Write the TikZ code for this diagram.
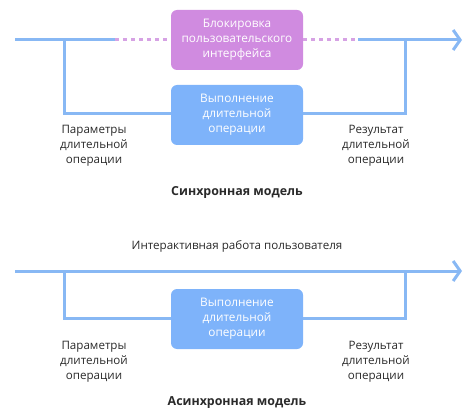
\documentclass[tikz,border=0pt]{standalone}
\usepackage{fontspec}
\setmainfont{Open Sans}
\usetikzlibrary{arrows.meta}
\definecolor{lineblue}{HTML}{88B8F4}
\definecolor{boxblue}{HTML}{7EB3FA}
\definecolor{boxpurple}{HTML}{D08BE0}
\definecolor{dashpurple}{HTML}{D6A2E4}
\definecolor{txt}{HTML}{2A2A2A}
\tikzset{
  flow/.style={draw=lineblue, line width=3pt},
  dashflow/.style={draw=dashpurple, line width=3pt, dash pattern=on 4pt off 4pt},
  opbox/.style={fill=boxblue, rounded corners=6pt, minimum width=132pt, minimum height=60pt, text=white, align=center, font=\fontsize{11.8}{15}\selectfont, inner sep=0pt},
  blockbox/.style={opbox, fill=boxpurple},
  lbl/.style={text=txt, align=center, font=\fontsize{11.6}{15}\selectfont},
  ttl/.style={text=txt, font=\fontsize{12.4}{15}\selectfont\bfseries},
  arr/.style={-{Straight Barb[length=7pt,width=20pt,line width=3pt]}}
}
\begin{document}
\begin{tikzpicture}[x=1pt,y=-1pt]
\useasboundingbox (0,0) rectangle (474,417);
% ---------- synchronous ----------
\node[blockbox] (blk) at (237,40) {Блокировка\\пользовательского\\интерфейса};
\node[opbox] (op1) at (237,115) {Выполнение\\длительной\\операции};
\coordinate (s1) at (15,40);
\coordinate (s2) at (64,40);
\coordinate (s3) at (115,40);
\coordinate (s4) at (358,40);
\coordinate (s5) at (405,40);
\coordinate (s6) at (462,40);
\coordinate (sl) at (64,114);
\coordinate (sr) at (405,114);
\draw[flow] (s1) -- (s3);
\draw[dashflow] (s3) -- (blk.west);
\draw[dashflow] (blk.east) -- (s4);
\draw[flow,arr] (s4) -- (s6);
\draw[flow,line join=miter] (s2) -- (sl) -- (op1.west |- sl);
\draw[flow,line join=miter] (op1.east |- sr) -- (sr) -- (s5);
\node[lbl] (p1) at (94,146) {Параметры\\длительной\\операции};
\node[lbl] (r1) at (376,146) {Результат\\длительной\\операции};
\node[ttl] (t1) at (237,192) {Синхронная модель};
% ---------- asynchronous ----------
\node[lbl] (ui) at (237,246) {Интерактивная работа пользователя};
\node[opbox] (op2) at (237,319) {Выполнение\\длительной\\операции};
\coordinate (a1) at (15,271);
\coordinate (a2) at (64,271);
\coordinate (a5) at (405,271);
\coordinate (a6) at (462,271);
\coordinate (al) at (64,318);
\coordinate (ar) at (405,318);
\draw[flow,arr] (a1) -- (a6);
\draw[flow,line join=miter] (a2) -- (al) -- (op2.west |- al);
\draw[flow,line join=miter] (op2.east |- ar) -- (ar) -- (a5);
\node[lbl] (p2) at (94,362) {Параметры\\длительной\\операции};
\node[lbl] (r2) at (376,362) {Результат\\длительной\\операции};
\node[ttl] (t2) at (237,403) {Асинхронная модель};
\end{tikzpicture}
\end{document}
